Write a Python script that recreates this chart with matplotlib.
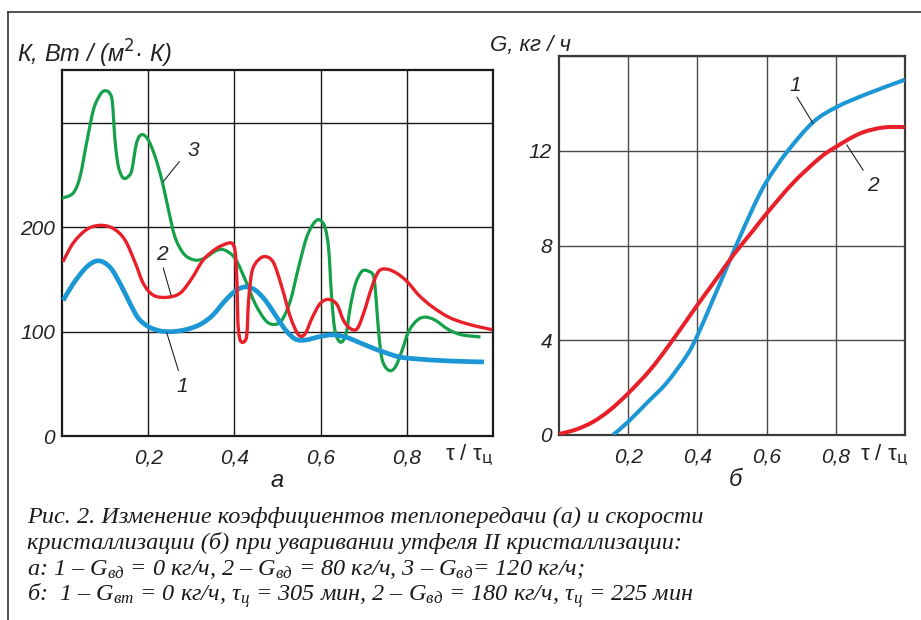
import numpy as np
import matplotlib.pyplot as plt
from matplotlib.lines import Line2D
from matplotlib.path import Path
from matplotlib.patches import PathPatch

# --- panel а: heat transfer coefficient K vs tau/tau_c ---
k1_x = [0.003, 0.026, 0.057, 0.084, 0.111, 0.135, 0.158, 0.177, 0.2, 0.225, 0.25, 0.275, 0.3,
        0.325, 0.35, 0.379, 0.402, 0.425, 0.448, 0.472, 0.495, 0.518, 0.541, 0.564, 0.595,
        0.626, 0.657, 0.688, 0.723, 0.743, 0.781, 0.82, 0.897, 0.979]
k1_y = [130, 146, 162, 168, 162, 146, 127, 113, 105, 101, 100, 101, 103.5,
        108, 116, 130, 139, 143, 140, 130, 116, 102, 93, 92, 95,
        97, 95, 90, 84, 81, 76, 74, 72, 71]

k2_x = [0.002, 0.026, 0.057, 0.088, 0.119, 0.146, 0.17, 0.189, 0.212, 0.243, 0.274, 0.301,
        0.328, 0.359, 0.386, 0.396, 0.402, 0.406, 0.408, 0.412, 0.417, 0.424, 0.429, 0.433,
        0.441, 0.456, 0.473, 0.491, 0.51, 0.53, 0.549, 0.564, 0.58, 0.599, 0.619, 0.638,
        0.653, 0.669, 0.685, 0.7, 0.719, 0.735, 0.754, 0.777, 0.801, 0.828, 0.859, 0.897,
        0.936, 0.975, 0.998]
k2_y = [167, 185, 198, 202, 199, 188, 166, 146, 135, 133, 137, 151,
        169, 180, 185, 184, 176, 146, 110, 94, 90, 91, 98, 130,
        158, 169, 172, 166, 143, 114, 97, 98, 113, 127, 131, 126,
        111, 103, 103, 118, 143, 158, 160, 156, 148, 135, 124, 114,
        108, 104, 102]

k3_x = [0.0, 0.026, 0.042, 0.057, 0.073, 0.088, 0.098, 0.108, 0.115, 0.118, 0.121, 0.125,
        0.131, 0.139, 0.146, 0.154, 0.162, 0.173, 0.185, 0.2, 0.216, 0.232, 0.247, 0.262,
        0.282, 0.305, 0.328, 0.359, 0.379, 0.402, 0.425, 0.448, 0.472, 0.491, 0.51, 0.53,
        0.549, 0.568, 0.586, 0.599, 0.611, 0.619, 0.625, 0.633, 0.646, 0.659, 0.669, 0.681,
        0.696, 0.711, 0.723, 0.729, 0.735, 0.743, 0.758, 0.773, 0.789, 0.804, 0.824, 0.843,
        0.866, 0.897, 0.928, 0.971]
k3_y = [228, 233, 249, 281, 313, 327, 331, 330, 325, 315, 295, 275,
        258, 249, 247, 249, 255, 281, 289, 284, 268, 245, 217, 191,
        175, 169, 170, 178, 178, 170, 150, 127, 111, 107, 111, 130,
        162, 191, 205, 207, 199, 178, 137, 102, 90, 98, 124, 146,
        158, 158, 153, 130, 98, 73, 63, 66, 82, 100, 111, 114,
        111, 102, 97, 95]

# --- panel б: crystallisation rate G vs tau/tau_c ---
g1_x = [0.156, 0.2, 0.253, 0.311, 0.369, 0.4, 0.446, 0.494, 0.509, 0.561, 0.6, 0.659,
        0.734, 0.803, 0.89, 1.0]
g1_y = [0.0, 0.56, 1.34, 2.2, 3.35, 4.2, 5.75, 7.38, 7.9, 9.6, 10.7, 11.95,
        13.2, 13.85, 14.4, 15.0]

g2_x = [0.0, 0.051, 0.099, 0.147, 0.2, 0.263, 0.321, 0.4, 0.456, 0.504, 0.562, 0.6,
        0.677, 0.754, 0.8, 0.87, 0.937, 1.0]
g2_y = [0.04, 0.24, 0.56, 1.05, 1.76, 2.74, 3.85, 5.49, 6.61, 7.6, 8.65, 9.35,
        10.65, 11.7, 12.16, 12.73, 12.98, 13.0]

x_ticks = [0.2, 0.4, 0.6, 0.8]
x_tick_labels = ['0,2', '0,4', '0,6', '0,8']
k_ticks = [0, 100, 200, 300]
k_tick_labels = ['0', '100', '200', '']
g_ticks = [0, 4, 8, 12, 16]
g_tick_labels = ['0', '4', '8', '12', '']

caption = [
    'Рис. 2. Изменение коэффициентов теплопередачи (а) и скорости',
    'кристаллизации (б) при уваривании утфеля II кристаллизации:',
    'а: 1 – $G_{вд}$ = 0 кг/ч, 2 – $G_{вд}$ = 80 кг/ч, 3 – $G_{вд}$= 120 кг/ч;',
    'б:  1 – $G_{вт}$ = 0 кг/ч, $τ_{ц}$ = 305 мин, 2 – $G_{вд}$ = 180 кг/ч, $τ_{ц}$ = 225 мин',
]

BLUE = '#1b97d5'
RED = '#e8202a'
GREEN = '#15a04a'

plt.rcParams['font.family'] = ['Liberation Sans', 'DejaVu Sans']
plt.rcParams['mathtext.fontset'] = 'custom'
plt.rcParams['mathtext.it'] = 'Liberation Serif:italic'
plt.rcParams['mathtext.rm'] = 'Liberation Serif:italic'
plt.rcParams['mathtext.default'] = 'it'

W, H = 921, 620
fig = plt.figure(figsize=(W / 100, H / 100), dpi=100)

def px(x, y):
    return x / W, 1 - y / H

def smooth_path(xs, ys):
    # Catmull-Rom through the points, written out as cubic Bezier segments
    p = np.column_stack([xs, ys]).astype(float)
    ext = np.vstack([p[0], p, p[-1]])
    verts = [p[0]]
    codes = [Path.MOVETO]
    for i in range(1, len(ext) - 2):
        p0, p1, p2, p3 = ext[i - 1], ext[i], ext[i + 1], ext[i + 2]
        verts += [p1 + (p2 - p0) / 6, p2 - (p3 - p1) / 6, p2]
        codes += [Path.CURVE4] * 3
    return Path(verts, codes)

def curve(ax, xs, ys, color, lw, z):
    ax.add_patch(PathPatch(smooth_path(xs, ys), fill=False, edgecolor=color, lw=lw,
                           joinstyle='round', capstyle='butt', zorder=z))

ax1 = fig.add_axes([62 / W, 1 - 436 / H, 431 / W, 366 / H])
ax2 = fig.add_axes([559 / W, 1 - 435 / H, 346 / W, 379 / H])

def style(ax, yticks, ylabels, ylim, gcol, scol):
    ax.set_xlim(0, 1)
    ax.set_ylim(*ylim)
    ax.set_xticks(x_ticks)
    ax.set_xticklabels(x_tick_labels)
    ax.set_yticks(yticks)
    ax.set_yticklabels(ylabels)
    ax.tick_params(length=0, labelsize=15, pad=5)
    ax.tick_params(axis='x', pad=9)
    for lab in ax.get_xticklabels() + ax.get_yticklabels():
        lab.set_fontstyle('italic')
        lab.set_color('#222222')
    ax.grid(True, color=gcol, lw=1.0)
    ax.set_axisbelow(True)
    for s in ax.spines.values():
        s.set_color(scol)
        s.set_linewidth(1.6)

style(ax1, k_ticks, k_tick_labels, (0, 351), '#1a1a1a', '#1a1a1a')
style(ax2, g_ticks, g_tick_labels, (0, 16), '#4a4a4a', '#3a3a3a')

curve(ax1, k3_x, k3_y, GREEN, 2.3, 3)
curve(ax1, k1_x, k1_y, BLUE, 3.4, 4)
curve(ax1, k2_x, k2_y, RED, 2.4, 5)

curve(ax2, g1_x, g1_y, BLUE, 2.9, 4)
curve(ax2, g2_x, g2_y, RED, 2.9, 5)

# curve numbers with leader lines
def mark(ax, num, txt_xy, seg):
    ax.text(*txt_xy, num, fontsize=15, style='italic', ha='center', va='center', color='#222222')
    ax.plot(seg[0], seg[1], color='#222222', lw=0.8, zorder=6)

mark(ax1, '3', (0.305, 274), ([0.272, 0.235], [263, 244]))
mark(ax1, '2', (0.232, 174), ([0.235, 0.253], [161, 135]))
mark(ax1, '1', (0.278, 47), ([0.27, 0.243], [63, 99]))
mark(ax2, '1', (0.682, 14.75), ([0.688, 0.734], [14.26, 13.16]))
mark(ax2, '2', (0.908, 10.55), ([0.879, 0.832], [11.18, 12.24]))

sans = dict(fontsize=17, style='italic', color='#222222', math_fontfamily='dejavusans')
fig.text(*px(17, 63), 'К, Вт / (м$^2$· К)', va='baseline', **sans)
fig.text(*px(490, 51), 'G, кг / ч', va='baseline', fontsize=16, style='italic',
         color='#222222')

tau = dict(fontsize=16, color='#222222', math_fontfamily='dejavusans', va='baseline')
fig.text(*px(445, 461), 'τ / τ$_{\\mathrm{ц}}$', **tau)
fig.text(*px(860, 461), 'τ / τ$_{\\mathrm{ц}}$', **tau)

fig.text(*px(277, 487), 'а', fontsize=17, style='italic', ha='center', va='baseline', color='#222222')
fig.text(*px(735, 486), 'б', fontsize=17, style='italic', ha='center', va='baseline', color='#222222')

# frame around the figure block
fig.add_artist(Line2D([8 / W, 8 / W], [0, 1 - 12 / H], color='#333333', lw=1.2))
fig.add_artist(Line2D([8 / W, 1], [1 - 12 / H, 1 - 12 / H], color='#333333', lw=1.2))

for i, line in enumerate(caption):
    fig.text(*px(27, 523 + 25.8 * i), line, fontsize=17.5, style='italic', va='baseline',
             family='Liberation Serif', color='#1a1a1a')

fig.savefig('out.png', dpi=100)
